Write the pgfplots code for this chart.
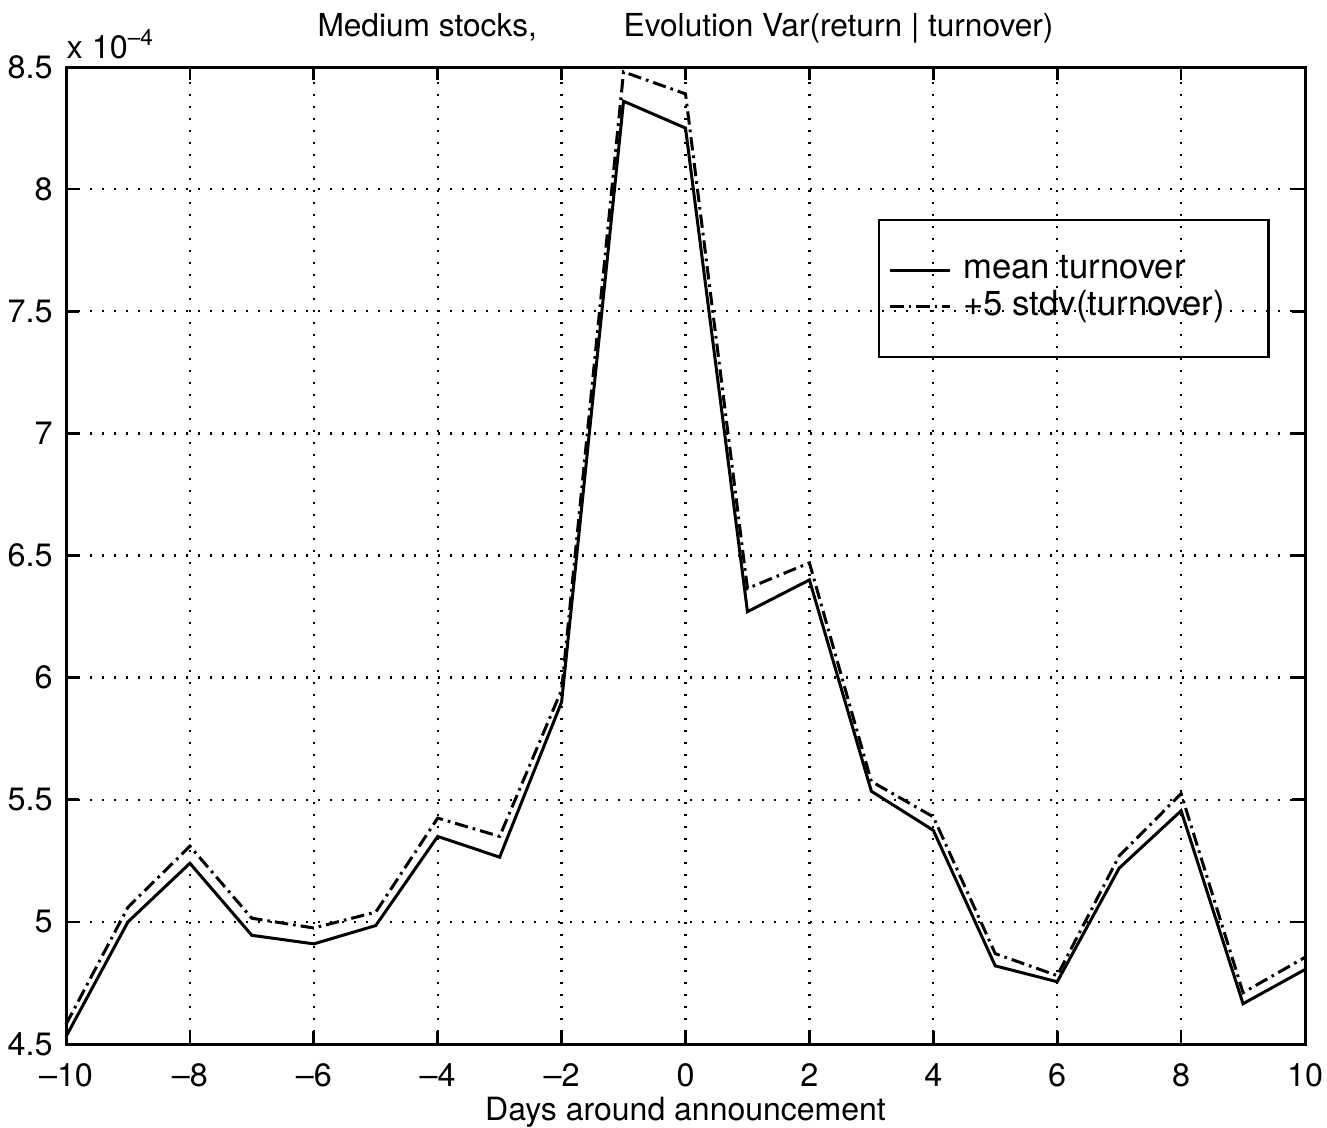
\documentclass[border=0pt]{standalone}
\usepackage{fontspec}
\setmainfont{TeX Gyre Heros}
\usepackage{pgfplots}
\pgfplotsset{compat=1.18}
\begin{document}
\begin{tikzpicture}
\begin{axis}[
  at={(0,0)}, anchor=south west,
  scale only axis,
  width=371.7pt, height=293.1pt,
  xmin=-10, xmax=10, ymin=4.5, ymax=8.5,
  xtick={-10,-8,...,10},
  xticklabels={--10,--8,--6,--4,--2,0,2,4,6,8,10},
  ytick={4.5,5,5.5,6,6.5,7,7.5,8,8.5},
  yticklabels={4.5,5,5.5,6,6.5,7,7.5,8,8.5},
  tick align=inside,
  major tick length=3.9pt,
  tick style={black, line width=0.8pt},
  axis line style={black, line width=0.9pt},
  grid=major,
  major grid style={black, line width=0.7pt, dash pattern=on 0.7pt off 2.9pt},
  ticklabel style={font=\fontsize{9.7}{11}\selectfont},
  xticklabel style={inner sep=0pt, yshift=-5.6pt},
  yticklabel style={xshift=-0.5pt},
  /pgf/number format/assume math mode=true,
  xlabel={Days around announcement},
  xlabel style={at={(axis description cs:0.5,0)}, anchor=base, inner sep=0pt, yshift=-22.8pt, font=\fontsize{9.6}{11}\selectfont},
  clip=false,
  legend style={at={(0.655,0.8446)}, anchor=north west, draw=black, line width=0.8pt, fill=none,
    inner xsep=3pt, inner ysep=9.5pt, row sep=0pt,
    font=\fontsize{10.4}{12}\selectfont,
    nodes={inner xsep=1pt, inner ysep=0.5pt, text height=0.75em, text depth=0.25em},
    /tikz/every odd column/.append style={column sep=2.5pt}},
  legend cell align=left,
  legend image code/.code={\draw[#1] (0pt,0pt) -- (18pt,0pt);},
]
\addplot[black, line width=0.9pt] coordinates {
(-10,4.53) (-9,5.00) (-8,5.24) (-7,4.945) (-6,4.91) (-5,4.985) (-4,5.35) (-3,5.265) (-2,5.90) (-1,8.36) (0,8.25)
(1,6.27) (2,6.40) (3,5.535) (4,5.375) (5,4.82) (6,4.755) (7,5.22) (8,5.455) (9,4.665) (10,4.805)};
\addlegendentry{mean turnover}
\addplot[black, line width=0.9pt, dash pattern=on 4pt off 1.5pt on 0.8pt off 1.5pt] coordinates {
(-10,4.58) (-9,5.06) (-8,5.31) (-7,5.015) (-6,4.975) (-5,5.04) (-4,5.425) (-3,5.35) (-2,5.95) (-1,8.48) (0,8.39)
(1,6.365) (2,6.47) (3,5.575) (4,5.43) (5,4.87) (6,4.78) (7,5.27) (8,5.525) (9,4.71) (10,4.855)};
\addlegendentry{+5 stdv(turnover)\kern9pt\null}
\node[anchor=base west, inner sep=0pt, font=\fontsize{9.7}{11}\selectfont] at ([yshift=2.7pt]rel axis cs:0,1) {x 10\textsuperscript{--4}};
\node[anchor=base, inner sep=0pt, font=\fontsize{9.5}{11}\selectfont] at ([yshift=9.3pt]rel axis cs:0.5,1) {Medium stocks,\hspace{26pt}Evolution Var(return | turnover)};
\end{axis}
\pgfresetboundingbox
\useasboundingbox (-19.8pt,-24.9pt) rectangle (378.3pt,313.2pt);
\end{tikzpicture}
\end{document}
